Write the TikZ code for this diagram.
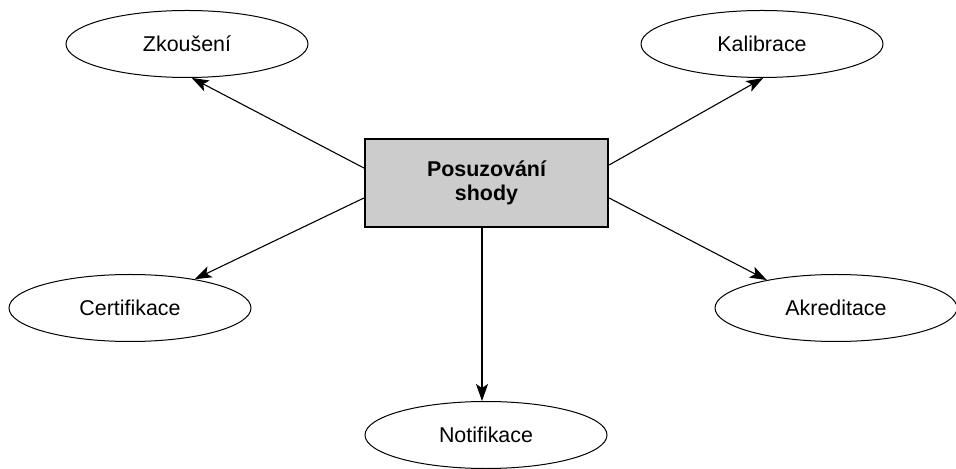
\documentclass[tikz,border=0pt]{standalone}
\usepackage{fontspec}
\setmainfont{Liberation Sans}
\usetikzlibrary{shapes.geometric,arrows.meta,calc}
\begin{document}
\begin{tikzpicture}[x=0.5pt,y=-0.5pt,
  topic/.style={ellipse,draw,line width=0.5pt,minimum width=121pt,minimum height=33.5pt,
    inner sep=0pt,font=\fontsize{10.7}{12.8}\selectfont},
  core/.style={rectangle,draw,line width=1.1pt,fill=black!20,minimum width=121.5pt,
    minimum height=44pt,align=center,font=\fontsize{10.7}{11.8}\selectfont\bfseries},
  arr/.style={-{Stealth[length=8.5pt,width=6pt,inset=2pt]},line width=0.55pt}]
\useasboundingbox (0,0) rectangle (956,469);
% central box and surrounding activities
\node[core] (box) at (486.5,183) {Posuzování\\shody};
\node[topic] (zk) at (187,44) {Zkoušení};
\node[topic] (ka) at (762,44) {Kalibrace};
\node[topic] (ce) at (130,308) {Certifikace};
\node[topic] (ak) at (836,308) {Akreditace};
\node[topic] (no) at (486,435) {Notifikace};
% start points on the box edges
\coordinate (lw1) at ($(box.west)+(0,-15)$);
\coordinate (lw2) at ($(box.west)+(0,15)$);
\coordinate (re1) at ($(box.east)+(0,-18)$);
\coordinate (re2) at ($(box.east)+(0,15)$);
\coordinate (bs) at ($(box.south)+(-4.5,0)$);
% connectors
\draw[arr] (lw1) -- (zk.278);
\draw[arr] (re1) -- (ka.272);
\draw[arr] (lw2) -- (ce.24);
\draw[arr] (re2) -- (ak.158);
\draw[arr] (bs) -- (bs |- no.north);
\end{tikzpicture}
\end{document}
